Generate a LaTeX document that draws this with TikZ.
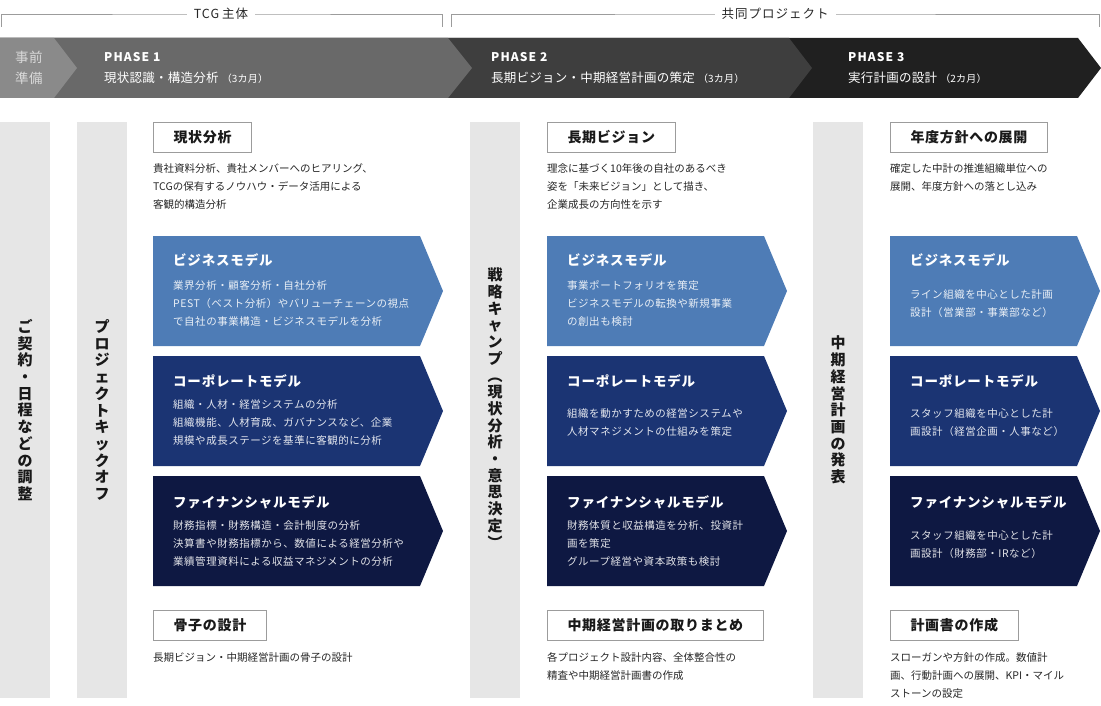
\documentclass[tikz,border=0pt]{standalone}
\usepackage{fontspec}
\setmainfont{Noto Sans CJK JP}
\definecolor{preGray}{HTML}{8A8A8A}
\definecolor{phOne}{HTML}{696969}
\definecolor{phTwo}{HTML}{3E3E3E}
\definecolor{phThree}{HTML}{202020}
\definecolor{barGray}{HTML}{E6E6E6}
\definecolor{lineGray}{HTML}{9C9C9C}
\definecolor{bizBlue}{HTML}{4E7CB6}
\definecolor{corpBlue}{HTML}{1B3473}
\definecolor{finBlue}{HTML}{0E1842}
\definecolor{descGray}{HTML}{262626}
\newcommand\descfont{\fontsize{10.5}{18}\selectfont}
\newcommand\chevbodyfont{\fontsize{10.5}{18}\selectfont\addfontfeature{LetterSpace=5}}
\newcommand\chevtitlefont{\fontsize{13.5}{16}\selectfont\bfseries\addfontfeature{LetterSpace=6}}
\newcommand\headfont{\fontsize{14}{16}\selectfont\bfseries\addfontfeature{LetterSpace=5}}
\newcommand\vfont{\fontsize{15}{16.7}\selectfont\bfseries}
\newcommand\months[1]{{\fontsize{10}{12}\selectfont #1}}
\tikzset{
  bracket/.style={draw=lineGray,line width=0.8pt},
  bracketname/.style={fill=white,inner xsep=7pt,inner ysep=1pt,text=black!85,font=\fontsize{12.5}{14}\selectfont\addfontfeature{LetterSpace=8}},
  phase/.style={fill=#1},
  phasename/.style={anchor=west,inner sep=0pt,text=white,font=\fontsize{12}{14}\selectfont\bfseries\addfontfeature{LetterSpace=9}},
  phasesub/.style={anchor=west,inner sep=0pt,text=white,font=\fontsize{12.5}{14}\selectfont\addfontfeature{LetterSpace=2}},
  sidebar/.style={fill=barGray},
  vlabel/.style={align=center,inner sep=0pt,font=\vfont,text=black!90},
  heading/.style={draw=lineGray,line width=1pt,fill=white,anchor=north west,minimum height=30pt,inner xsep=20pt,font=\headfont,text=black!90},
  desc/.style={anchor=north west,align=left,inner sep=0pt,font=\descfont,text=descGray},
  chev/.style={fill=#1},
  chevtitle/.style={anchor=west,inner sep=0pt,text=white,font=\chevtitlefont},
  chevbody/.style={anchor=north west,align=left,inner sep=0pt,text=white,text opacity=0.88,font=\chevbodyfont}
}

\begin{document}
\begin{tikzpicture}[x=1pt,y=-1pt]
  \useasboundingbox (0,0) rectangle (1101,706);

  % Brackets
  \coordinate (tl) at (1,27);
  \coordinate (tr) at (442,27);
  \draw[bracket] (tl) |- (221,14) -| (tr);
  \node[bracketname] (tcg) at (221,14) {TCG\hspace{3pt}主体};
  \coordinate (jl) at (451,27);
  \coordinate (jr) at (1099,27);
  \draw[bracket] (jl) |- (775,14) -| (jr);
  \node[bracketname] (joint) at (775,14) {共同プロジェクト};

  % Phase band
  \fill[phase=phThree] (0,38) -- (1078,38) -- (1101,68) -- (1078,98) -- (0,98) -- cycle;
  \fill[phase=phTwo] (0,38) -- (789,38) -- (812,68) -- (789,98) -- (0,98) -- cycle;
  \fill[phase=phOne] (0,38) -- (448,38) -- (472,68) -- (448,98) -- (0,98) -- cycle;
  \fill[phase=preGray] (0,38) -- (54,38) -- (77,68) -- (54,98) -- (0,98) -- cycle;
  \node[phasesub,text=white!85!black,font=\fontsize{13.5}{15}\selectfont\addfontfeature{LetterSpace=4}] (pre1) at (15,57) {事前};
  \node[phasesub,text=white!85!black,font=\fontsize{13.5}{15}\selectfont\addfontfeature{LetterSpace=4}] (pre2) at (15,78) {準備};
  \node[phasename] (ph1) at (104,57) {PHASE 1};
  \node[phasesub] (ph1s) at (104,78) {現状認識・構造分析 \months{（3カ月）}};
  \node[phasename] (ph2) at (491,57) {PHASE 2};
  \node[phasesub] (ph2s) at (491,78) {長期ビジョン・中期経営計画の策定 \months{（3カ月）}};
  \node[phasename] (ph3) at (848,57) {PHASE 3};
  \node[phasesub] (ph3s) at (848,78) {実行計画の設計 \months{（2カ月）}};

  % Side bars
  \foreach \x in {0,77,470,813}
    \fill[sidebar] (\x,122) rectangle +(50,576);
  \node[vlabel] (contract) at (25,410) {ご\\契\\約\\・\\日\\程\\な\\ど\\の\\調\\整};
  \node[vlabel] (kickoff) at (102,410) {プ\\ロ\\ジ\\ェ\\ク\\ト\\キ\\ッ\\ク\\オ\\フ};
  \node[vlabel] (camp) at (495,408) {戦\\略\\キ\\ャ\\ン\\プ\\︵\\現\\状\\分\\析\\・\\意\\思\\決\\定\\︶};
  \node[vlabel] (announce) at (838,410) {中\\期\\経\\営\\計\\画\\の\\発\\表};

  % Chevrons
  \foreach \xa/\xb in {153/420,547/764,890/1077}
    \foreach \ya/\c in {236/bizBlue,356/corpBlue,476/finBlue}
      \fill[chev=\c] (\xa,\ya) -- (\xb,\ya) -- (\xb+23,\ya+55) -- (\xb,\ya+110) -- (\xa,\ya+110) -- cycle;

  % Phase 1 column
  \node[heading] (genjo) at (153,122) {現状分析};
  \node[desc] (genjod) at (153,163) {貴社資料分析、貴社メンバーへのヒアリング、\\TCGの保有するノウハウ・データ活用による\\客観的構造分析};
  \node[chevtitle] (biz1) at (173,260) {ビジネスモデル};
  \node[chevbody] (biz1d) at (173,280) {業界分析・顧客分析・自社分析\\PEST（ベスト分析）やバリューチェーンの視点\\で自社の事業構造・ビジネスモデルを分析};
  \node[chevtitle] (corp1) at (173,381) {コーポレートモデル};
  \node[chevbody] (corp1d) at (173,399) {組織・人材・経営システムの分析\\組織機能、人材育成、ガバナンスなど、企業\\規模や成長ステージを基準に客観的に分析};
  \node[chevtitle] (fin1) at (173,502) {ファイナンシャルモデル};
  \node[chevbody] (fin1d) at (173,520) {財務指標・財務構造・会計制度の分析\\決算書や財務指標から、数値による経営分析や\\業績管理資料による収益マネジメントの分析};
  \node[heading] (kosshi) at (153,610) {骨子の設計};
  \node[desc] (kosshid) at (153,652) {長期ビジョン・中期経営計画の骨子の設計};

  % Phase 2 column
  \node[heading] (vision) at (547,122) {長期ビジョン};
  \node[desc] (visiond) at (547,163) {理念に基づく10年後の自社のあるべき\\姿を「未来ビジョン」として描き、\\企業成長の方向性を示す};
  \node[chevtitle] (biz2) at (567,260) {ビジネスモデル};
  \node[chevbody] (biz2d) at (567,280) {事業ポートフォリオを策定\\ビジネスモデルの転換や新規事業\\の創出も検討};
  \node[chevtitle] (corp2) at (567,381) {コーポレートモデル};
  \node[chevbody] (corp2d) at (567,408) {組織を動かすための経営システムや\\人材マネジメントの仕組みを策定};
  \node[chevtitle] (fin2) at (567,502) {ファイナンシャルモデル};
  \node[chevbody] (fin2d) at (567,520) {財務体質と収益構造を分析、投資計\\画を策定\\グループ経営や資本政策も検討};
  \node[heading] (matome) at (547,610) {中期経営計画の取りまとめ};
  \node[desc] (matomed) at (547,652) {各プロジェクト設計内容、全体整合性の\\精査や中期経営計画書の作成};

  % Phase 3 column
  \node[heading] (tenkai) at (890,122) {年度方針への展開};
  \node[desc] (tenkaid) at (890,163) {確定した中計の推進組織単位への\\展開、年度方針への落とし込み};
  \node[chevtitle] (biz3) at (910,260) {ビジネスモデル};
  \node[chevbody] (biz3d) at (910,289) {ライン組織を中心とした計画\\設計（営業部・事業部など）};
  \node[chevtitle] (corp3) at (910,381) {コーポレートモデル};
  \node[chevbody] (corp3d) at (910,408) {スタッフ組織を中心とした計\\画設計（経営企画・人事など）};
  \node[chevtitle] (fin3) at (910,502) {ファイナンシャルモデル};
  \node[chevbody] (fin3d) at (910,530) {スタッフ組織を中心とした計\\画設計（財務部・IRなど）};
  \node[heading] (sakusei) at (890,610) {計画書の作成};
  \node[desc] (sakuseid) at (890,652) {スローガンや方針の作成。数値計\\画、行動計画への展開、KPI・マイル\\ストーンの設定};
\end{tikzpicture}
\end{document}
